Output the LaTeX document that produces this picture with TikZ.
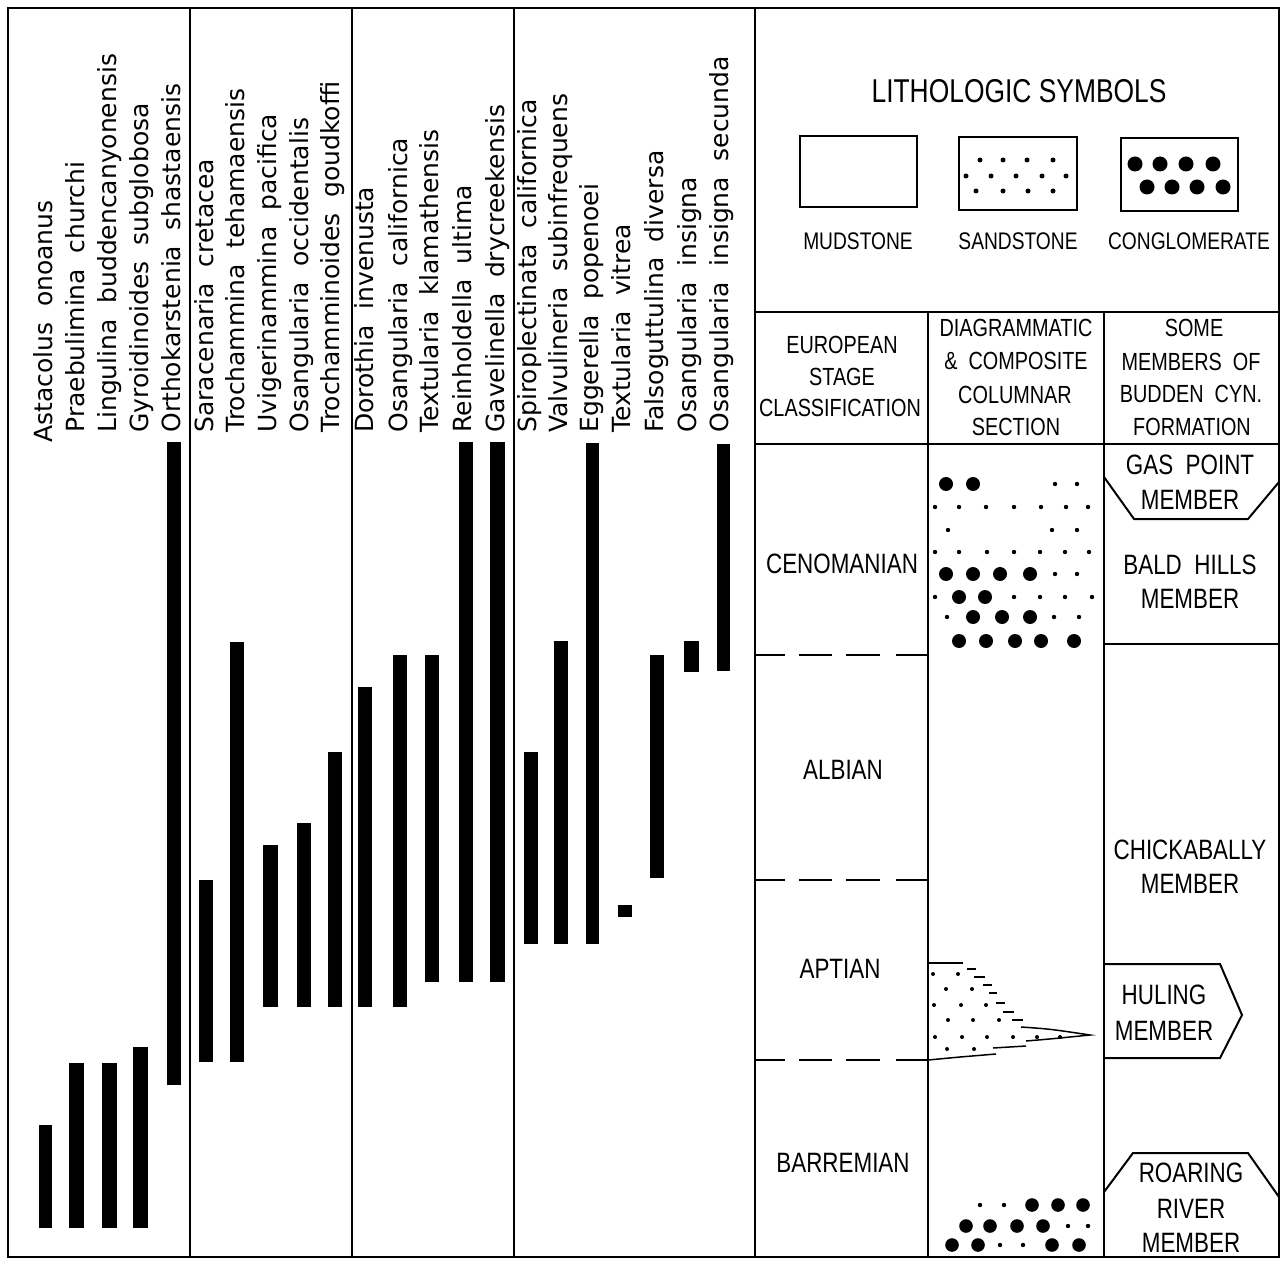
\documentclass[tikz,border=0pt]{standalone}
\usepackage{fontspec}
\setmainfont{DejaVu Sans}
\newfontfamily\spfont{DejaVu Sans}
\newfontfamily\lettr[FakeStretch=0.8]{Liberation Sans}
\newcommand{\wgap}{\hspace{0.62em}}
\begin{document}
\begin{tikzpicture}[x=0.5pt,y=-0.5pt,
  frame/.style={line width=1.4pt},
  rule/.style={line width=1.1pt},
  thinrule/.style={line width=0.75pt},
  bar/.style={fill=black,draw=none},
  sp/.style={rotate=90,anchor=base west,inner sep=0pt,font=\spfont\fontsize{12.5}{15}\selectfont},
  stage/.style={inner sep=0pt,font=\lettr\fontsize{14}{16}\selectfont},
  hdr/.style={inner sep=0pt,font=\lettr\fontsize{12.4}{14}\selectfont},
  legend/.style={inner sep=0pt,font=\lettr\fontsize{12}{14}\selectfont},
  ttl/.style={inner sep=0pt,font=\lettr\fontsize{16.5}{18}\selectfont},
  member/.style={line width=1pt,line join=miter}]
\fill[white] (0,0) rectangle (1283,1261);
\useasboundingbox (0,0) rectangle (1283,1261);

% ---------- frame and dividers ----------
\draw[frame] (8,8) rectangle (1279,1257);
\draw[thinrule] (190,8) -- (190,1257);
\draw[thinrule] (352,8) -- (352,1257);
\draw[thinrule] (514,8) -- (514,1257);
\draw[rule] (755,8) -- (755,1257);
\draw[rule] (755,312) -- (1279,312);
\draw[rule] (755,444) -- (1279,444);
\draw[rule] (928,312) -- (928,1257);
\draw[rule] (1104,312) -- (1104,1257);
\draw[rule] (1104,644) -- (1279,644);

% ---------- species labels and range bars ----------
\foreach \n/\xc/\xa/\xb/\ya/\yb/\ys/\txt in {
  s1/45/39/52/1125/1228/443/{Astacolus\wgap onoanus},
  s2/77/69/84/1063/1228/433/{Praebulimina\wgap churchi},
  s3/109/102/117/1063/1228/433/{Lingulina\wgap buddencanyonensis},
  s4/141/133/148/1047/1228/433/{Gyroidinoides\wgap subglobosa},
  s5/173/167/181/442/1085/433/{Orthokarstenia\wgap shastaensis},
  s6/206/199/213/880/1062/433/{Saracenaria\wgap cretacea},
  s7/237/230/244/642/1062/433/{Trochammina\wgap tehamaensis},
  s8/269/263/278/845/1007/433/{Uvigerinammina\wgap pacifica},
  s9/301/297/311/823/1007/433/{Osangularia\wgap occidentalis},
  s10/332/328/342/752/1007/433/{Trochamminoides\wgap goudkoffi},
  s11/366/358/372/687/1007/433/{Dorothia\wgap invenusta},
  s12/400/393/407/655/1007/433/{Osangularia\wgap californica},
  s13/431/425/439/655/982/433/{Textularia\wgap klamathensis},
  s14/464/459/473/442/982/433/{Reinholdella\wgap ultima},
  s15/497/490/505/442/982/433/{Gavelinella\wgap drycreekensis},
  s16/529/524/538/752/944/433/{Spiroplectinata\wgap californica},
  s17/560/554/568/641/944/433/{Valvulineria\wgap subinfrequens},
  s18/591/586/599/443/944/433/{Eggerella\wgap popenoei},
  s19/623/618/632/905/917/433/{Textularia\wgap vitrea},
  s20/656/650/664/655/878/433/{Falsoguttulina\wgap diversa},
  s21/689/684/699/641/672/433/{Osangularia\wgap insigna},
  s22/721/717/730/444/671/433/{Osangularia\wgap insigna\wgap secunda}}
{
  \node[sp] (\n) at (\xc+7.5,\ys) {\txt};
  \fill[bar] (\xa,\ya) rectangle (\xb,\yb);
}

% ---------- lithologic symbols legend ----------
\node[ttl] (title) at (1019,91) {LITHOLOGIC SYMBOLS};
\draw[rule] (800,136) rectangle (917,207);
\draw[rule] (959,137) rectangle (1077,210);
\draw[rule] (1121,138) rectangle (1238,211);
\node[legend] (mud) at (858,241) {MUDSTONE};
\node[legend] (sand) at (1018,241) {SANDSTONE};
\node[legend] (cong) at (1189,241) {CONGLOMERATE};
\foreach \x in {980,1003,1027,1053} \fill (\x,160) circle (2.5);
\foreach \x in {966,991,1016,1042,1066} \fill (\x,176) circle (2.5);
\foreach \x in {976,1003,1028,1053} \fill (\x,191) circle (2.5);
\foreach \x in {1135,1160,1186,1213} \fill (\x,164) circle (7.5);
\foreach \x in {1147,1172,1197,1223} \fill (\x,187) circle (7.5);

% ---------- table headers ----------
\node[hdr] (h1a) at (842,345) {EUROPEAN};
\node[hdr] (h1b) at (842,377) {STAGE};
\node[hdr] (h1c) at (840,408) {CLASSIFICATION};
\node[hdr] (h2a) at (1016,328) {DIAGRAMMATIC};
\node[hdr] (h2b) at (1016,361) {\& \ COMPOSITE};
\node[hdr] (h2c) at (1015,395) {COLUMNAR};
\node[hdr] (h2d) at (1016,427) {SECTION};
\node[hdr] (h3a) at (1194,328) {SOME};
\node[hdr] (h3b) at (1191,362) {MEMBERS \ OF};
\node[hdr] (h3c) at (1191,394) {BUDDEN \ CYN.};
\node[hdr] (h3d) at (1192,427) {FORMATION};

% ---------- stages ----------
\node[stage] (cen) at (842,564) {CENOMANIAN};
\node[stage] (alb) at (843,770) {ALBIAN};
\node[stage] (apt) at (840,969) {APTIAN};
\node[stage] (bar) at (843,1163) {BARREMIAN};
\foreach \y in {655,880,1060}{
  \draw[rule] (755,\y) -- (785,\y);
  \draw[rule] (799,\y) -- (832,\y);
  \draw[rule] (846,\y) -- (880,\y);
  \draw[rule] (896,\y) -- (928,\y);
}

% ---------- members ----------
\draw[member] (1104,477) -- (1134,519) -- (1248,519) -- (1279,482);
\node[stage] (gp1) at (1190,465) {GAS \ POINT};
\node[stage] (gp2) at (1190,500) {MEMBER};
\node[stage] (bh1) at (1190,565) {BALD \ HILLS};
\node[stage] (bh2) at (1190,599) {MEMBER};
\node[stage] (ch1) at (1190,850) {CHICKABALLY};
\node[stage] (ch2) at (1190,884) {MEMBER};
\draw[member] (1104,964) -- (1220,964) -- (1242,1015) -- (1220,1058) -- (1104,1058);
\node[stage] (hu1) at (1164,995) {HULING};
\node[stage] (hu2) at (1164,1031) {MEMBER};
\draw[member] (1104,1192) -- (1133,1153) -- (1248,1153) -- (1279,1197);
\node[stage] (rr1) at (1191,1173) {ROARING};
\node[stage] (rr2) at (1191,1209) {RIVER};
\node[stage] (rr3) at (1191,1243) {MEMBER};

% ---------- composite columnar section ----------
\foreach \p in {(946,484),(973,484),(946,574),(973,574),(1000,574),(1030,574),
  (959,597),(985,597),(973,617),(1002,617),(1030,617),
  (959,641),(986,641),(1015,641),(1041,641),(1074,641)}
  \fill \p circle (7);
\foreach \p in {(1055,484),(1077,484),
  (935,507),(959,507),(986,507),(1014,507),(1041,507),(1066,507),(1088,507),
  (948,530),(1052,530),(1077,530),
  (935,552),(959,552),(987,552),(1014,552),(1040,552),(1065,552),(1089,552),
  (1055,574),(1077,574),
  (935,597),(1014,597),(1040,597),(1065,597),(1092,597),
  (947,617),(1054,617),(1079,617)}
  \fill \p circle (2.2);
% Huling sandstone tongue
\draw[thinrule] (929,963) -- (963,963);
\foreach \a/\b/\y in {967/976/969,974/985/977,983/992/985,989/997/993,996/1005/1003,1003/1014/1012,1012/1023/1020}
  \draw[thinrule] (\a,\y) -- (\b,\y);
\draw[thinrule] (1021,1027) .. controls (1050,1029) .. (1090,1035) .. controls (1050,1039) .. (1026,1041);
\draw[thinrule] (993,1048) -- (1026,1046);
\draw[thinrule] (928,1060) -- (960,1057) -- (996,1054);
\foreach \p in {(933,974),(958,974),(946,989),(972,989),(934,1005),(961,1005),(986,1005),
  (948,1020),(973,1020),(999,1020),(935,1037),(962,1037),(987,1037),(1013,1037),
  (1037,1037),(1060,1037),(947,1049),(974,1049)}
  \fill \p circle (2);
% Roaring River conglomerate
\foreach \p in {(1032,1205),(1058,1205),(1083,1205),(966,1226),(990,1226),(1017,1226),
  (1043,1226),(952,1245),(978,1245),(1052,1245),(1079,1245)}
  \fill \p circle (6.8);
\foreach \p in {(980,1205),(1004,1205),(1068,1226),(1088,1226),(1000,1245),(1023,1245)}
  \fill \p circle (2.2);
\end{tikzpicture}
\end{document}
